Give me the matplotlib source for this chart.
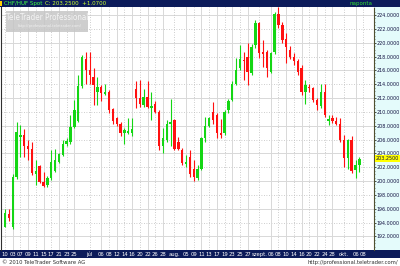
import numpy as np
import matplotlib
matplotlib.use("Agg")
import matplotlib.pyplot as plt
from matplotlib.patches import Rectangle

plt.rcParams['font.family'] = ['Liberation Sans Narrow', 'DejaVu Sans']
plt.rcParams['font.stretch'] = 'condensed'

# daily CHF/HUF candles, June - Oct 2010
opens = [193.4, 195.3, 193.4, 200.6, 206.4, 206.65, 205.0, 204.6, 201.0, 202.2,
         199.9, 199.4, 200.4, 201.5, 202.8, 203.8, 205.4, 205.7, 207.8, 208.7,
         213.7, 217.7, 216.0, 215.1, 212.9, 213.6, 212.6, 212.9, 210.4, 209.1,
         208.2, 206.9, 207.0, 207.0, 213.3, 212.0, 211.0, 212.2, 210.6, 211.2,
         210.0, 205.0, 205.9, 208.3, 208.8, 205.6, 204.5, 202.5, 203.5, 201.8,
         200.5, 201.8, 206.2, 208.0, 210.0, 209.5, 206.9, 206.9, 210.3, 211.7,
         214.1, 216.3, 217.5, 218.0, 215.6, 219.7, 222.8, 218.7, 218.7, 215.8,
         218.6, 224.2, 222.6, 220.5, 219.0, 218.0, 217.3, 216.3, 212.9, 213.5,
         213.4, 211.7, 210.8, 212.9, 208.7, 209.1, 208.7, 208.2, 205.9, 203.3,
         205.9, 201.6, 202.3]
highs = [195.9, 195.9, 201.0, 208.6, 208.1, 207.5, 205.9, 205.7, 203.0, 202.3,
         201.3, 200.8, 204.5, 204.6, 204.0, 206.0, 206.2, 209.5, 211.7, 215.3,
         218.2, 218.7, 218.7, 216.3, 215.1, 213.9, 214.1, 213.2, 210.6, 209.3,
         208.5, 207.6, 209.1, 209.1, 214.4, 214.6, 213.3, 214.4, 212.9, 211.6,
         210.3, 207.6, 208.8, 211.8, 209.0, 206.3, 204.8, 203.8, 204.5, 203.0,
         202.3, 206.4, 209.3, 209.3, 211.4, 209.8, 208.9, 210.3, 211.9, 214.4,
         217.8, 219.7, 218.7, 219.9, 219.8, 223.3, 223.0, 220.4, 218.9, 218.7,
         224.5, 225.2, 223.0, 221.4, 219.5, 218.5, 217.6, 216.8, 214.6, 214.0,
         213.6, 212.0, 214.1, 214.1, 209.6, 209.6, 209.3, 209.1, 206.7, 206.1,
         206.5, 203.1, 203.5]
lows = [193.3, 194.2, 193.0, 200.3, 203.5, 203.5, 203.0, 200.9, 199.4, 199.7,
        199.1, 199.2, 200.1, 201.3, 202.6, 203.6, 205.0, 205.4, 207.6, 208.6,
        213.5, 214.1, 214.1, 211.0, 211.0, 211.5, 212.4, 209.8, 208.3, 207.9,
        206.5, 205.4, 206.8, 206.5, 210.5, 210.7, 210.7, 210.5, 208.8, 209.8,
        204.5, 204.0, 205.7, 205.0, 204.5, 204.5, 202.3, 202.1, 200.6, 200.0,
        200.1, 201.6, 205.7, 207.8, 208.3, 206.2, 206.2, 206.6, 209.9, 211.5,
        213.9, 216.0, 214.6, 213.9, 215.3, 219.2, 217.8, 216.5, 215.1, 215.6,
        218.4, 222.1, 220.0, 217.0, 217.7, 216.8, 215.3, 212.4, 211.2, 212.8,
        211.4, 210.3, 210.6, 209.3, 208.1, 208.4, 208.1, 205.7, 202.1, 201.8,
        201.1, 200.4, 201.3]
closes = [195.4, 194.7, 200.6, 207.1, 206.65, 205.0, 204.6, 201.1, 201.5, 199.9,
          199.3, 200.5, 202.8, 203.0, 203.9, 205.4, 205.8, 207.8, 210.3, 213.7,
          218.0, 216.0, 215.3, 213.9, 213.6, 212.7, 212.9, 210.3, 208.7, 208.2,
          206.9, 207.4, 207.2, 207.5, 212.0, 211.1, 212.2, 210.7, 210.8, 210.0,
          205.0, 206.2, 208.3, 208.6, 204.7, 204.6, 202.6, 202.8, 201.0, 200.6,
          201.8, 206.2, 208.0, 209.1, 208.8, 206.9, 206.7, 210.0, 211.5, 214.1,
          216.0, 217.7, 217.3, 215.8, 219.4, 222.8, 218.5, 218.4, 216.3, 218.5,
          224.2, 222.6, 220.4, 219.4, 218.0, 217.3, 215.8, 212.9, 213.9, 213.4,
          211.7, 211.0, 212.9, 209.5, 209.0, 208.7, 208.2, 205.9, 203.3, 205.9,
          201.5, 202.3, 203.25]

# date labels along the bottom and the trading-day slot they belong to
date_labels = ['10', '03', '07', '09', '11', '15', '17', '21', '23', '25', 'júl',
               '06', '08', '12', '14', '16', '20', '22', '26', '28', 'aug.',
               '05', '09', '11', '13', '17', '19', '23', '25', '27', 'szept.',
               '06', '08', '10', '14', '16', '20', '22', '24', '28', 'okt.',
               '06', '08']
date_slots = [0, 2, 4, 6, 8, 10, 12, 14, 16, 18, 22,
              25, 27, 29, 31, 33, 35, 37, 39, 41, 44,
              47, 49, 51, 53, 55, 57, 59, 61, 63, 66,
              69, 71, 73, 75, 77, 79, 81, 83, 85, 88,
              91, 93]
price_ticks = np.arange(192, 226, 2)
last_price = 203.25

W, H = 400, 266
NAVY = '#0c1b5a'
UP = '#14d614'
DOWN = '#ff1010'
FS = 4.2
FS_Y = 3.9

fig = plt.figure(figsize=(W / 100, H / 100), dpi=100)
fig.patch.set_facecolor('white')

# right hand price panel
fig.add_artist(Rectangle((374 / W, 16 / H), 26 / W, 243 / H, transform=fig.transFigure,
                         facecolor='#e4fbfb', edgecolor='none', zorder=-1))

ax = fig.add_axes([1 / W, 16 / H, 373 / W, 243 / H])
ax.set_facecolor('white')

x = np.arange(len(opens))
o = np.array(opens)
c = np.array(closes)
colors = [UP if cc >= oo else DOWN for oo, cc in zip(o, c)]
ax.vlines(x, lows, highs, colors=colors, linewidth=0.8, zorder=3)
body = np.maximum(np.abs(c - o), 0.18)
ax.bar(x, body, bottom=np.minimum(o, c), width=0.62, color=colors,
       edgecolor='none', zorder=4)

ax.set_xlim(-1.04, 95.8)
ax.set_ylim(190.03, 225.16)

# grid: solid every 4, dotted in between
for v in price_ticks:
    if v % 4 == 0:
        ax.axhline(v, color='#d8d8d8', lw=0.7, zorder=1)
    else:
        ax.axhline(v, color='#bcbcbc', lw=0.6, ls=(0, (1, 2)), zorder=1)
for k, s in enumerate(date_slots):
    if k % 2 == 1:
        ax.axvline(s, color='#d8d8d8', lw=0.7, zorder=1)
    else:
        ax.axvline(s, color='#bcbcbc', lw=0.6, ls=(0, (1, 2)), zorder=1)

ax.yaxis.tick_right()
ax.set_yticks(price_ticks)
ax.set_yticklabels([f'{v:.4f}' for v in price_ticks])
ax.set_yticks(np.arange(190.5, 225, 0.5), minor=True)
ax.tick_params(axis='y', which='major', length=1.5, width=0.6, color='#303030',
               labelsize=FS_Y, labelcolor='#101040', pad=0.6)
ax.tick_params(axis='y', which='minor', length=0.8, width=0.4, color='#303030')

ax.set_xticks(date_slots)
ax.set_xticklabels(date_labels)
ax.tick_params(axis='x', length=0, labelsize=FS, labelcolor='white', pad=1.2)

for side in ['top', 'bottom']:
    ax.spines[side].set_visible(False)
ax.spines['right'].set_color('#505030')
ax.spines['right'].set_linestyle((0, (2, 1)))
ax.spines['right'].set_linewidth(0.8)
ax.spines['left'].set_color('#303030')
ax.spines['left'].set_linestyle((0, (1, 1)))
ax.spines['left'].set_linewidth(0.8)

# last price marker
ax.annotate(f'{last_price:.4f}', xy=(1.0, last_price), xycoords=('axes fraction', 'data'),
            xytext=(1.5, 0), textcoords='offset points', va='center', ha='left',
            fontsize=FS_Y, color='#101040', annotation_clip=False,
            bbox=dict(boxstyle='square,pad=0.15', facecolor='#ffff00', edgecolor='none'))

# top header bar
fig.add_artist(Rectangle((0, 259 / H), 1, 7 / H, transform=fig.transFigure,
                         facecolor=NAVY, edgecolor='none', zorder=2))
fig.add_artist(Rectangle((0, 260 / H), 2 / W, 5 / H, transform=fig.transFigure,
                         facecolor='#ffd000', edgecolor='none', zorder=3))
fig.text(4 / W, 262.5 / H, 'CHF/HUF Spot', color='#40ff40', fontsize=FS + 0.2,
         va='center', ha='left', zorder=4)
fig.text(45 / W, 262.5 / H, 'C: 203.2500  +1.0700', color='#c8ff30', fontsize=FS + 0.2,
         va='center', ha='left', zorder=4)
fig.text(373 / W, 262.5 / H, 'naponta', color='#30e030', fontsize=FS + 0.2,
         va='center', ha='right', zorder=4)

# bottom date bar
fig.add_artist(Rectangle((0, 8 / H), 1, 8.5 / H, transform=fig.transFigure,
                         facecolor=NAVY, edgecolor='none', zorder=-1))

# footer
fig.text(2 / W, 3.5 / H, '© 2010 TeleTrader Software AG', color='#303030', fontsize=FS,
         va='center', ha='left')
fig.text(398 / W, 3.5 / H, 'http://professional.teletrader.com/', color='#303030',
         fontsize=FS, va='center', ha='right')

# watermark
fig.add_artist(Rectangle((6 / W, 234 / H), 82 / W, 21 / H, transform=fig.transFigure,
                         facecolor='#c6c6c6', edgecolor='none', alpha=0.85, zorder=5))
fig.text(47 / W, 248 / H, 'TeleTrader Professional', color='#f4f4f4', fontsize=5.8,
         va='center', ha='center', zorder=6)
fig.text(50 / W, 239.5 / H, 'http://professional.teletrader.com/', color='#f0f0f0',
         fontsize=3, va='center', ha='center', zorder=6)

fig.savefig('out.png', dpi=100)
